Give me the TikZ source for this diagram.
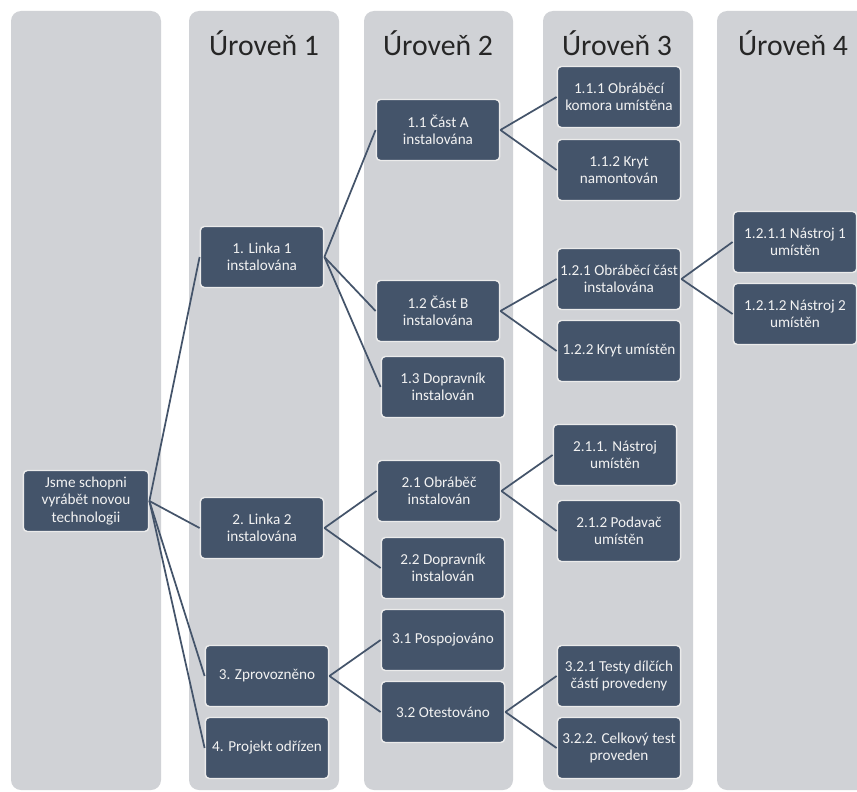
\documentclass[tikz,border=0pt]{standalone}
\usepackage{fontspec}
\setmainfont{Carlito}
\definecolor{colgray}{RGB}{208,210,214}
\definecolor{boxblue}{RGB}{68,84,106}
\tikzset{
  column/.style={fill=colgray, draw=none, rounded corners=7.5pt},
  title/.style={font=\fontsize{22.3}{25}\selectfont, text=black!85, anchor=center},
  box/.style={rectangle, rounded corners=3pt, fill=boxblue, draw=white!92!black, line width=1.1pt,
    text=white!95!black, align=center, minimum width=92.5pt, minimum height=45.75pt, inner sep=1pt,
    font=\fontsize{11.4}{12.8}\selectfont},
  link/.style={draw=boxblue, line width=1.3pt}
}
\begin{document}
\begin{tikzpicture}[x=0.75pt, y=-0.75pt]
\useasboundingbox (0,0) rectangle (857,792);
\clip (0,0) rectangle (857,792);
\fill[white] (0,0) rectangle (857,792);
% columns
\path[column] (11,11) rectangle (161,790);
\path[column] (189,11) rectangle (339,790);
\path[column] (364,11) rectangle (513,790);
\path[column] (543,11) rectangle (693,790);
\path[column] (717,11) rectangle (880,790);
% titles
\node[title] (t1) at (264,43) {Úroveň 1};
\node[title] (t2) at (438,43) {Úroveň 2};
\node[title] (t3) at (617,43) {Úroveň 3};
\node[title] (t4) at (793,43) {Úroveň 4};
% nodes
\node[box, minimum width=94pt] (root) at (86,501) {Jsme schopni\\vyrábět novou\\technologii};
\node[box] (l1) at (262,257) {1. Linka 1\\instalována};
\node[box] (l2) at (262,528) {2. Linka 2\\instalována};
\node[box] (l3) at (267,676) {3. Zprovozněno};
\node[box] (l4) at (267,748) {4. Projekt odřízen};
\node[box] (a11) at (438,130) {1.1 Část A\\instalována};
\node[box] (a12) at (438,311) {1.2 Část B\\instalována};
\node[box] (a13) at (443,387) {1.3 Dopravník\\instalován};
\node[box] (a21) at (439,491) {2.1 Obráběč\\instalován};
\node[box] (a22) at (443,568) {2.2 Dopravník\\instalován};
\node[box] (a31) at (443,640) {3.1 Pospojováno};
\node[box] (a32) at (443,712) {3.2 Otestováno};
\node[box] (b111) at (619,97) {1.1.1 Obráběcí\\komora umístěna};
\node[box] (b112) at (619,170) {1.1.2 Kryt\\namontován};
\node[box] (b121) at (619,279) {1.2.1 Obráběcí část\\instalována};
\node[box] (b122) at (619,351) {1.2.2 Kryt umístěn};
\node[box] (b211) at (615,455) {2.1.1. Nástroj\\umístěn};
\node[box] (b212) at (619,531) {2.1.2 Podavač\\umístěn};
\node[box] (b321) at (619,676) {3.2.1 Testy dílčích\\částí provedeny};
\node[box] (b322) at (619,748) {3.2.2. Celkový test\\proveden};
\node[box] (c1) at (795,242) {1.2.1.1 Nástroj 1\\umístěn};
\node[box] (c2) at (795,314) {1.2.1.2 Nástroj 2\\umístěn};
% connectors
\foreach \c in {l1,l2,l3,l4} \draw[link] (root.east) -- (\c.west);
\foreach \c in {a11,a12,a13} \draw[link] (l1.east) -- (\c.west);
\foreach \c in {a21,a22} \draw[link] (l2.east) -- (\c.west);
\foreach \c in {a31,a32} \draw[link] (l3.east) -- (\c.west);
\foreach \c in {b111,b112} \draw[link] (a11.east) -- (\c.west);
\foreach \c in {b121,b122} \draw[link] (a12.east) -- (\c.west);
\foreach \c in {b211,b212} \draw[link] (a21.east) -- (\c.west);
\foreach \c in {b321,b322} \draw[link] (a32.east) -- (\c.west);
\foreach \c in {c1,c2} \draw[link] (b121.east) -- (\c.west);
\end{tikzpicture}
\end{document}
